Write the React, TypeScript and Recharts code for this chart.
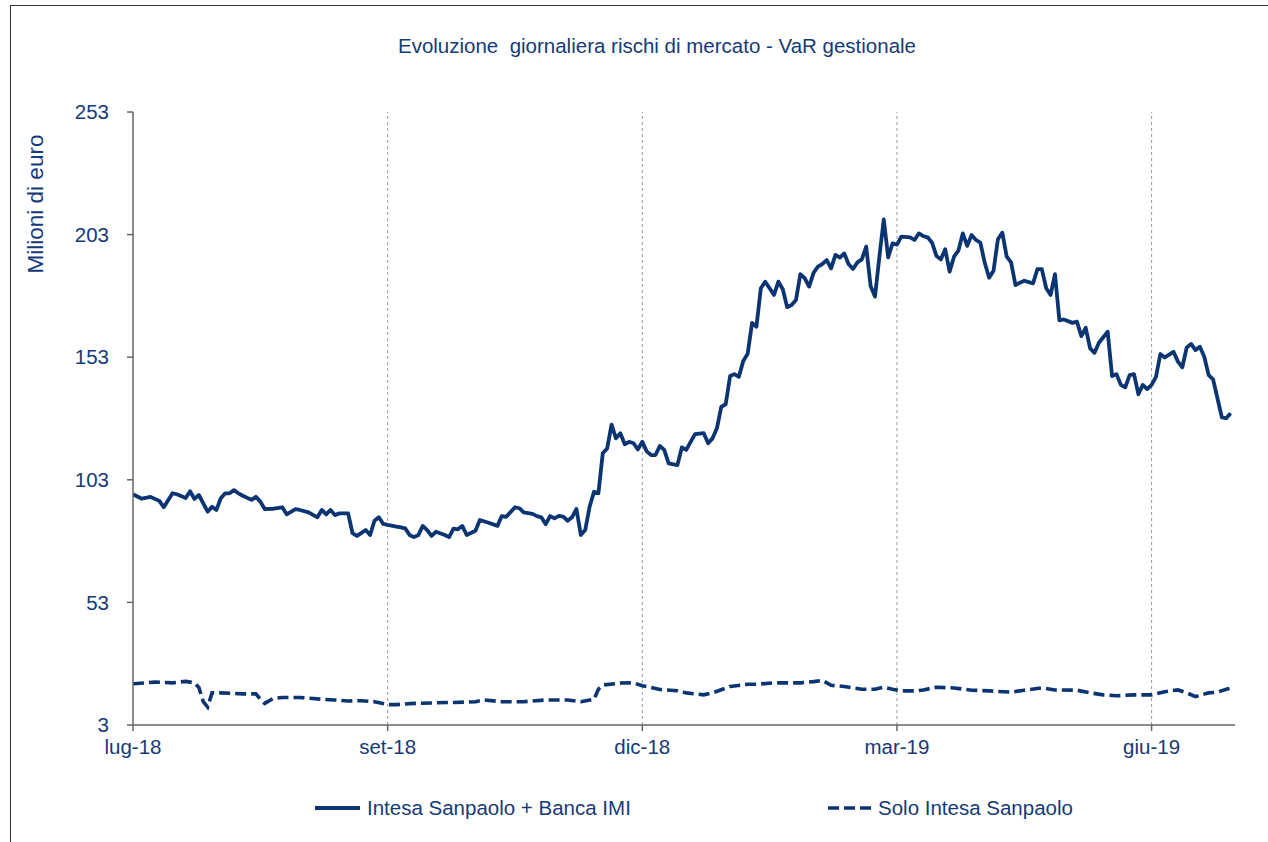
import { LineChart, Line, XAxis, YAxis, ReferenceLine } from 'recharts';

// trading-day index (0 = start of lug-18) and VaR in milioni di euro
const totDays = [
  0, 2, 4, 6, 7, 9, 10, 12, 13, 14, 15, 17, 18, 19, 20, 21, 22, 23, 24, 25, 27, 28, 29, 30, 32, 34, 35, 37, 38, 40,
  42, 43, 44, 45, 46, 47, 49, 50, 51, 53, 54, 55, 56, 57, 58, 60, 61, 62, 63, 64, 65, 66, 67, 68, 69, 71, 72, 73, 74,
  75, 76, 78, 79, 81, 83, 84, 85, 87, 88, 89, 91, 92, 93, 94, 95, 96, 97, 98, 99, 100, 101, 102, 103, 104, 105, 106,
  107, 108, 109, 110, 111, 112, 113, 114, 115, 116, 117, 118, 119, 120, 121, 122, 124, 125, 126, 128, 130, 131, 132,
  133, 134, 135, 136, 137, 138, 139, 140, 141, 142, 143, 144, 145, 146, 147, 148, 149, 150, 151, 152, 153, 154, 155,
  156, 157, 158, 159, 160, 161, 162, 163, 164, 165, 166, 167, 168, 169, 170, 171, 172, 173, 174, 175, 177, 178, 179,
  180, 181, 182, 183, 184, 185, 186, 187, 188, 189, 190, 191, 192, 193, 194, 195, 196, 197, 198, 199, 200, 201, 202,
  203, 205, 206, 207, 208, 209, 210, 211, 212, 214, 215, 216, 217, 218, 219, 220, 222, 223, 224, 225, 226, 227, 228,
  229, 230, 231, 232, 233, 234, 235, 237, 238, 239, 240, 241, 242, 243, 244, 245, 246, 248, 249, 250,
];
const totValues = [
  97.1, 95.3, 96.0, 94.4, 91.8, 97.5, 97.1, 95.6, 98.3, 95.2, 96.8, 90.0, 92.0, 90.7, 95.5, 97.5, 97.5, 98.8, 97.5,
  96.5, 94.8, 96.1, 94.1, 91.1, 91.2, 91.8, 88.9, 91.0, 90.7, 89.7, 87.7, 90.7, 88.9, 90.7, 88.6, 89.3, 89.3, 81.2,
  80.1, 82.5, 80.5, 86.3, 87.7, 85.0, 84.6, 83.9, 83.6, 83.2, 80.5, 79.6, 80.5, 84.2, 82.5, 80.1, 81.8, 80.5, 79.6,
  83.1, 82.8, 84.2, 80.5, 82.2, 86.6, 85.5, 84.2, 88.2, 87.9, 91.8, 91.4, 89.7, 89.1, 88.2, 87.7, 84.9, 88.2, 87.3,
  88.3, 88.0, 86.3, 87.7, 91.1, 80.5, 82.5, 92.0, 98.1, 97.5, 113.8, 115.8, 125.5, 119.9, 122.0, 117.5, 118.5, 117.9,
  115.4, 118.5, 114.6, 113.1, 113.1, 116.8, 115.2, 109.7, 109.0, 116.2, 115.2, 121.6, 122.0, 117.9, 119.9, 124.0,
  132.8, 133.8, 145.3, 146.1, 145.0, 151.5, 154.4, 167.0, 165.4, 181.1, 183.8, 181.1, 178.4, 183.8, 180.7, 173.4,
  174.3, 176.3, 186.9, 185.2, 181.8, 187.4, 189.9, 191.0, 192.6, 189.2, 194.7, 193.6, 195.3, 190.9, 189.0, 191.7,
  192.9, 198.1, 182.0, 177.7, 194.0, 209.2, 193.7, 199.4, 198.9, 202.2, 201.9, 200.8, 203.5, 202.4, 201.9, 199.7,
  194.3, 192.9, 197.0, 187.9, 194.0, 196.5, 203.5, 198.4, 202.8, 200.8, 199.7, 191.5, 185.4, 188.3, 201.1, 203.8,
  194.0, 191.7, 182.4, 183.4, 184.2, 183.1, 188.9, 188.9, 181.1, 178.4, 186.9, 168.0, 168.4, 167.0, 167.5, 161.6,
  165.0, 156.6, 154.8, 158.9, 163.4, 145.3, 146.1, 141.7, 140.7, 145.7, 146.1, 137.9, 141.7, 140.0, 141.7, 145.0,
  154.3, 152.9, 155.2, 151.2, 148.9, 157.0, 158.4, 155.9, 157.3, 153.2, 145.7, 144.0, 128.5, 128.1, 130.1,
];

const ispDays = [
  0, 5, 9, 12, 14, 15, 16, 17, 18, 20, 25, 28, 29, 30, 32, 34, 38, 43, 46, 49, 52, 55, 58, 60, 64, 68, 73, 78, 80, 84,
  89, 94, 99, 102, 105, 106, 107, 111, 114, 116, 118, 120, 124, 126, 130, 132, 136, 140, 142, 146, 149, 152, 155, 157,
  159, 162, 166, 169, 171, 173, 175, 178, 180, 183, 187, 191, 195, 200, 203, 207, 210, 215, 218, 221, 224, 228, 232,
  235, 238, 240, 242, 245, 247, 249, 250,
];
const ispValues = [
  19.8, 20.5, 20.2, 20.8, 20.2, 18.3, 12.5, 10.3, 16.1, 16.1, 15.7, 15.7, 13.5, 11.8, 13.9, 14.2, 14.2, 13.5, 13.2,
  12.8, 12.9, 12.5, 11.3, 11.3, 11.8, 12.0, 12.2, 12.5, 13.2, 12.5, 12.5, 13.2, 13.2, 12.5, 13.5, 17.6, 19.3, 20.1,
  20.2, 19.0, 18.3, 17.5, 17.0, 16.1, 15.3, 16.1, 18.7, 19.6, 19.6, 20.2, 20.2, 20.2, 20.7, 21.2, 19.2, 18.7, 17.6,
  17.6, 18.4, 17.6, 16.9, 16.9, 17.3, 18.4, 18.1, 17.2, 16.9, 16.4, 17.2, 18.1, 17.3, 17.2, 16.1, 15.3, 14.9, 15.3,
  15.3, 16.6, 17.3, 16.1, 14.6, 16.1, 16.4, 17.6, 18.0,
];

const xTickDays = [0, 58, 116, 174, 232];
const xTickLabels = ['lug-18', 'set-18', 'dic-18', 'mar-19', 'giu-19'];
const yTicks = [3, 53, 103, 153, 203, 253];

const NAVY = '#0b3472';
const TEXT = '#163a78';
const AXIS = '#666666';
const FONT = "'Liberation Sans', Arial, sans-serif";

const totData = totDays.map((d, i) => ({ day: d, value: totValues[i] }));
const ispData = ispDays.map((d, i) => ({ day: d, value: ispValues[i] }));

export default function App() {
  return (
    <div
      style={{
        position: 'absolute',
        left: 0,
        top: 0,
        width: 1268,
        height: 842,
        background: '#fff',
        fontFamily: FONT,
        color: TEXT,
        overflow: 'hidden',
      }}
    >
      {/* frame around the figure */}
      <div
        style={{
          position: 'absolute',
          left: 10,
          top: 5,
          width: 1300,
          height: 900,
          borderLeft: '1.5px solid #333',
          borderTop: '1.5px solid #333',
        }}
      />
      <div
        style={{
          position: 'absolute',
          left: 0,
          width: 1314,
          top: 34,
          textAlign: 'center',
          fontSize: 20.5,
          whiteSpace: 'pre',
        }}
      >
        {'Evoluzione  giornaliera rischi di mercato - VaR gestionale'}
      </div>
      <div
        style={{
          position: 'absolute',
          left: 36,
          top: 204,
          transform: 'translate(-50%, -50%) rotate(-90deg)',
          fontSize: 22.5,
          whiteSpace: 'nowrap',
        }}
      >
        Milioni di euro
      </div>

      <LineChart
        width={1268}
        height={842}
        margin={{ top: 112, right: 33, bottom: 77, left: 73 }}
        style={{ position: 'absolute', left: 0, top: 0 }}
      >
        <XAxis
          type="number"
          dataKey="day"
          domain={[0, 251]}
          ticks={xTickDays}
          tickFormatter={(d: number) => xTickLabels[xTickDays.indexOf(d)] ?? ''}
          height={40}
          tickSize={6}
          tickMargin={8}
          stroke={AXIS}
          strokeWidth={1.5}
          tick={{ fill: TEXT, fontSize: 20.5 }}
          allowDataOverflow
        />
        <YAxis
          type="number"
          domain={[3, 253]}
          ticks={yTicks}
          width={60}
          tickSize={6}
          tickMargin={18}
          stroke={AXIS}
          strokeWidth={1.5}
          tick={{ fill: TEXT, fontSize: 20.5 }}
          allowDataOverflow
        />
        {xTickDays.slice(1).map((d) => (
          <ReferenceLine key={d} x={d} stroke="#9a9a9a" strokeDasharray="3 3" />
        ))}
        <Line
          data={totData}
          dataKey="value"
          type="linear"
          stroke={NAVY}
          strokeWidth={3.8}
          strokeLinejoin="round"
          dot={false}
          isAnimationActive={false}
        />
        <Line
          data={ispData}
          dataKey="value"
          type="linear"
          stroke={NAVY}
          strokeWidth={3.6}
          strokeDasharray="11 5"
          dot={false}
          isAnimationActive={false}
        />
      </LineChart>

      {/* legend */}
      <svg style={{ position: 'absolute', left: 0, top: 795 }} width={1268} height={30}>
        <line x1={315} x2={360} y1={13} y2={13} stroke={NAVY} strokeWidth={3.8} />
        <line x1={828} x2={871} y1={13} y2={13} stroke={NAVY} strokeWidth={3.6} strokeDasharray="11 5" />
      </svg>
      <div style={{ position: 'absolute', left: 367, top: 796, fontSize: 20.5, whiteSpace: 'nowrap' }}>
        Intesa Sanpaolo + Banca IMI
      </div>
      <div style={{ position: 'absolute', left: 878, top: 796, fontSize: 20.5, whiteSpace: 'nowrap' }}>
        Solo Intesa Sanpaolo
      </div>
    </div>
  );
}
